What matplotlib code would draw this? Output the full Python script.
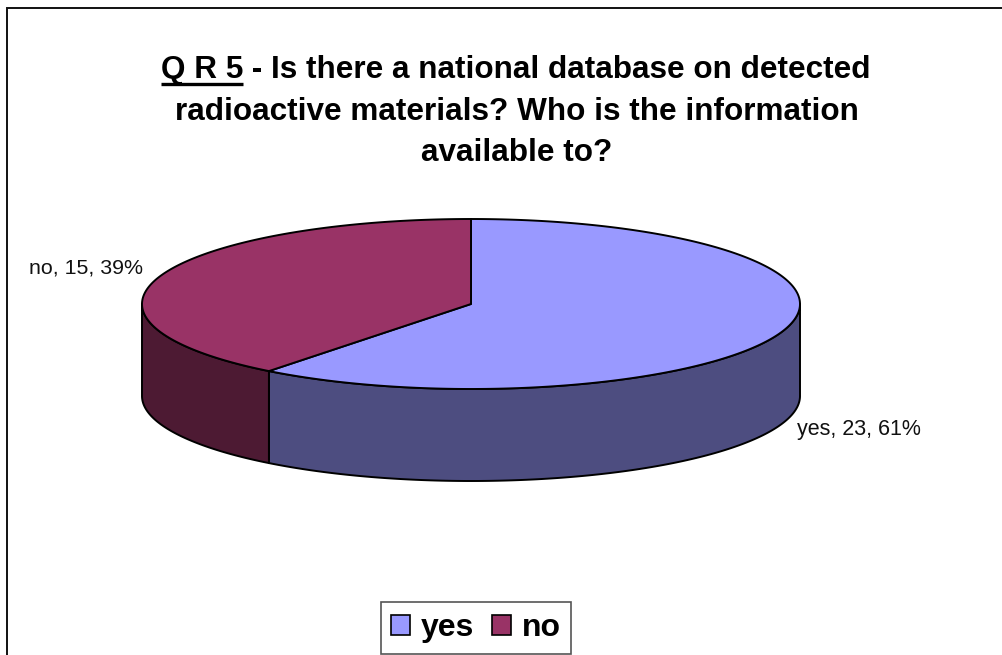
import numpy as np
import matplotlib
matplotlib.use('Agg')
import matplotlib.pyplot as plt
from matplotlib.patches import Patch, Polygon, Rectangle

labels = ['yes', 'no']
values = [23, 15]
percents = [61, 39]
top_colors = ['#9999FF', '#993366']
side_colors = ['#4D4D80', '#4D1A33']

title_lead = 'Q R 5'
title_lines = [' - Is there a national database on detected',
               'radioactive materials? Who is the information',
               'available to?']

plt.rcParams['font.family'] = ['Liberation Sans', 'DejaVu Sans']

# pie geometry in figure pixels
cx, cy = 471, 304
rx, ry = 329, 85
depth = 92
edge = 1.4


def rim(start, stop, drop=0):
    # angles run clockwise from twelve o'clock
    t = np.radians(np.linspace(start, stop, 200))
    return np.column_stack([cx + rx * np.sin(t), cy - ry * np.cos(t) + drop])


fig = plt.figure(figsize=(10.03, 6.55), dpi=100)
ax = fig.add_axes([0, 0, 1, 1])
ax.set_xlim(0, 1003)
ax.set_ylim(655, 0)
ax.axis('off')

# chart area border, right and bottom edges run off the canvas
ax.add_patch(Rectangle((7, 7.5), 1100, 700, facecolor='white', edgecolor='#111111', linewidth=1.4))

# slice boundaries from the values
total = sum(values)
bounds = np.concatenate([[0], np.cumsum(values) / total * 360])

# outer wall, front half only
for i in range(len(values)):
    start = max(bounds[i], 90)
    stop = min(bounds[i + 1], 270)
    if stop > start:
        wall = np.vstack([rim(start, stop), rim(start, stop, depth)[::-1]])
        ax.add_patch(Polygon(wall, closed=True, facecolor=side_colors[i],
                             edgecolor='black', linewidth=edge, joinstyle='round'))

# top face
for i in range(len(values)):
    face = np.vstack([[[cx, cy]], rim(bounds[i], bounds[i + 1])])
    ax.add_patch(Polygon(face, closed=True, facecolor=top_colors[i],
                         edgecolor='black', linewidth=edge, joinstyle='round'))

# data labels
ax.text(143, 268, '{}, {}, {}%'.format(labels[1], values[1], percents[1]),
        fontsize=15.4, ha='right', va='center', color='#111111')
ax.text(797, 429, '{}, {}, {}%'.format(labels[0], values[0], percents[0]),
        fontsize=15.5, ha='left', va='center', color='#111111')

# title, first line has an underlined lead-in so it is placed in two parts
title_size = 22.7
renderer = fig.canvas.get_renderer()
lead = ax.text(161, 78, title_lead, fontsize=title_size, fontweight='bold', ha='left', va='baseline')
lead_box = lead.get_window_extent(renderer)
ax.plot([161, lead_box.x1], [84, 84], color='black', linewidth=2.4, solid_capstyle='butt')
ax.text(lead_box.x1, 78, title_lines[0], fontsize=title_size, fontweight='bold', ha='left', va='baseline')
ax.text(516.5, 120, title_lines[1], fontsize=title_size, fontweight='bold', ha='center', va='baseline')
ax.text(516.5, 161, title_lines[2], fontsize=title_size, fontweight='bold', ha='center', va='baseline')

handles = [Patch(facecolor=top_colors[i], edgecolor='black', linewidth=1.2, label=labels[i])
           for i in range(len(labels))]
leg = ax.legend(handles=handles, loc='center', bbox_to_anchor=(476 / 1003, 1 - 628 / 655),
                bbox_transform=fig.transFigure, ncol=2, frameon=True, fancybox=False,
                edgecolor='#555555', framealpha=1, borderaxespad=0, borderpad=0.34,
                handlelength=0.58, handleheight=0.58, handletextpad=0.34, columnspacing=0.56,
                prop={'weight': 'bold', 'size': 23})
leg.get_frame().set_linewidth(1.2)

fig.savefig('out.png', dpi=100)
